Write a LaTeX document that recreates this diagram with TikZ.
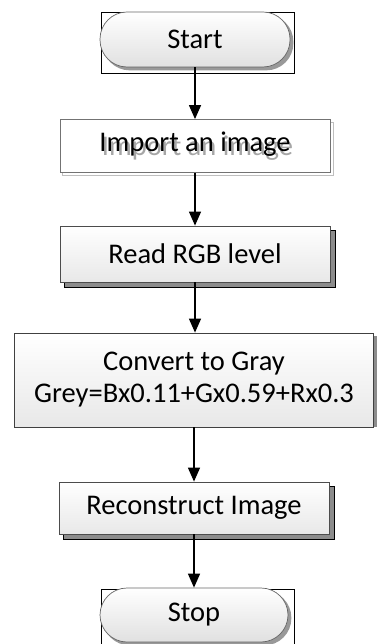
\documentclass[tikz,border=0pt]{standalone}
\usepackage{fontspec}
\setmainfont{Carlito}
\usetikzlibrary{arrows.meta,backgrounds}
\begin{document}
\begin{tikzpicture}[x=1pt,y=-1pt,
  every node/.style={font=\fontsize{28.5}{32}\selectfont, inner sep=0pt, align=center},
  term/.style={draw=black!60, line width=0.7pt, rounded corners=27pt, top color=white, bottom color=black!12},
  proc/.style={draw=black!70, line width=0.8pt, top color=white, bottom color=black!9},
  plain/.style={draw=black!55, line width=0.8pt, fill=white},
  flow/.style={-{Triangle[length=14pt,width=12pt]}, line width=1.3pt},
  framebox/.style={draw=black, line width=0.8pt},
  hardshadow/.style={fill=black!45, draw=black, line width=0.9pt}
]
\useasboundingbox (0,0) rectangle (377,644);

\node[term, minimum width=190pt, minimum height=55pt] (start) at (195,39.5) {Start};
\node[plain, minimum width=270pt, minimum height=53pt] (import) at (195,146)
  {\rlap{\hspace{2.5pt}\raisebox{-3.5pt}{\textcolor{black!35}{Import an image}}}Import an image};
\node[proc, minimum width=270pt, minimum height=56pt] (read) at (195,254) {Read RGB level};
\node[proc, draw=black!75, minimum width=359pt, minimum height=94pt] (convert) at (194,380)
  {Convert to Gray\\Grey=Bx0.11+Gx0.59+Rx0.3};
\node[proc, minimum width=270pt, minimum height=52pt] (recon) at (194,508) {Reconstruct Image};
\node[term, minimum width=188pt, minimum height=54pt] (stop) at (194,615) {Stop};

\begin{scope}[on background layer]
  \draw[framebox] ([shift={(2,1)}]start.north west) rectangle ([shift={(4,6)}]start.south east);
  \draw[framebox] ([shift={(2,2)}]stop.north west) rectangle ([shift={(6,6)}]stop.south east);
  \fill[black!40, rounded corners=27pt] ([shift={(3,3)}]start.north west) rectangle ([shift={(3,3)}]start.south east);
  \fill[black!40, rounded corners=27pt] ([shift={(3,3)}]stop.north west) rectangle ([shift={(3,3)}]stop.south east);
  \draw[black!25, line width=1pt] ([shift={(3,3)}]import.north west) rectangle ([shift={(3,3)}]import.south east);
  \draw[hardshadow] ([shift={(5,5)}]read.north west) rectangle ([shift={(5,5)}]read.south east);
  \fill[black!45] ([shift={(3,3)}]convert.north west) rectangle ([shift={(3,0)}]convert.south east);
  \draw[hardshadow] ([shift={(5,5)}]recon.north west) rectangle ([shift={(5,5)}]recon.south east);
\end{scope}

\draw[flow] (start.south) -- (import.north);
\draw[flow] (import.south) -- (read.north);
\draw[flow] (read.south) -- (read.south |- convert.north);
\draw[flow] (convert.south) -- (recon.north);
\draw[flow] (recon.south) -- (stop.north);
\end{tikzpicture}
\end{document}
